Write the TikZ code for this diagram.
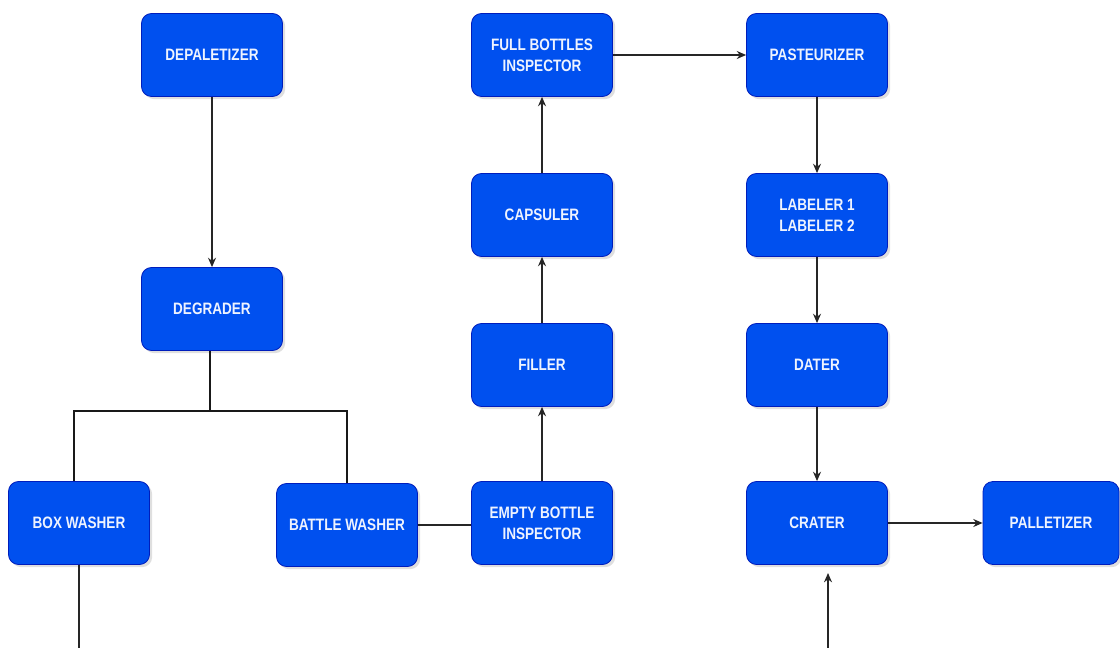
\documentclass[tikz,border=0pt]{standalone}
\usepackage{fontspec}
\setmainfont{Liberation Sans}[FakeStretch=0.82]
\usetikzlibrary{arrows.meta,shadows}
\definecolor{procfill}{HTML}{0050EF}
\definecolor{procline}{HTML}{001DBC}
\definecolor{proctext}{HTML}{EEF3FF}
\begin{document}
\begin{tikzpicture}[x=0.75pt,y=-0.75pt,
  proc/.style={draw=procline, line width=0.6pt, fill=procfill, rounded corners=7.5pt,
    minimum width=141*0.75pt, minimum height=83*0.75pt, inner sep=2pt,
    align=center, text=proctext, font=\fontsize{12.4}{15.5}\selectfont\bfseries,
    drop shadow={opacity=0.25, shadow xshift=2pt, shadow yshift=-2pt}},
  flow/.style={draw=black!85, line width=1pt, -{Stealth[length=7pt,width=6pt]}},
  link/.style={draw=black!85, line width=1pt},
  split/.style={draw=black!90, line width=2.2pt}]
\useasboundingbox (0,0) rectangle (1120,648);

% stations
\node[proc] (depal)  at (212,55)  {DEPALETIZER};
\node[proc] (degr)   at (212,309) {DEGRADER};
\node[proc] (boxw)   at (79,523)  {BOX WASHER};
\node[proc] (battw)  at (347,525) {BATTLE WASHER};
\node[proc] (ebi)    at (542,523) {EMPTY BOTTLE\\INSPECTOR};
\node[proc] (fill)   at (542,365) {FILLER};
\node[proc] (caps)   at (542,215) {CAPSULER};
\node[proc] (fbi)    at (542,55)  {FULL BOTTLES\\INSPECTOR};
\node[proc] (past)   at (817,55)  {PASTEURIZER};
\node[proc] (label)  at (817,215) {LABELER 1\\LABELER 2};
\node[proc] (dater)  at (817,365) {DATER};
\node[proc] (crater) at (817,523) {CRATER};
\node[proc, minimum width=136*0.75pt] (pallet) at (1051,523) {PALLETIZER};

% branch point under the degrader
\coordinate (fork) at (210,411);
\coordinate (forkL) at (74,411);
\coordinate (forkR) at (347,411);
\coordinate (boxout) at (79,648);
\coordinate (crin) at (828,648);
\coordinate (crtip) at (828,573);

% connectors
\draw[flow] (depal) -- (degr);
\draw[split] (degr.south -| fork) -- (fork);
\draw[split] (forkL |- boxw.north) -- (forkL) -- (forkR) -- (battw.north);
\draw[link] (boxw.south) -- (boxout);
\draw[link] (battw.east) -- (battw.east -| ebi.west);
\draw[flow] (ebi) -- (fill);
\draw[flow] (fill) -- (caps);
\draw[flow] (caps) -- (fbi);
\draw[flow] (fbi) -- (past);
\draw[flow] (past) -- (label);
\draw[flow] (label) -- (dater);
\draw[flow] (dater) -- (crater);
\draw[flow] (crin) -- (crtip);
\draw[flow] (crater) -- (pallet);
\end{tikzpicture}
\end{document}
